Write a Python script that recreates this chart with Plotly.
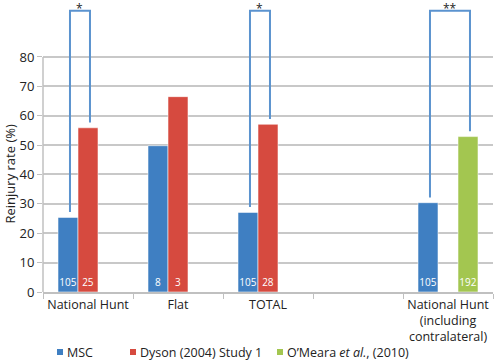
import plotly.graph_objects as go

categories = ["National Hunt", "Flat", "TOTAL", " ", "National Hunt<br>(including<br>contralateral)"]
msc_values = [25.4, 49.8, 27.1, None, 30.4]
dyson_values = [55.9, 66.5, 57.1, None, None]
omeara_values = [None, None, None, None, 52.9]
msc_n = ["105", "8", "105", "", "105"]
dyson_n = ["25", "3", "28", "", ""]
omeara_n = ["", "", "", "", "192"]
series_names = ["MSC", "Dyson (2004) Study 1", "O’Meara <i>et al.</i>, (2010)"]
y_ticks = [0, 10, 20, 30, 40, 50, 60, 70, 80]
y_title = "Reinjury rate (%)"
# significance brackets: (category index, left series, right series, label)
brackets = [(0, 0, 1, "*"), (2, 0, 1, "*"), (4, 0, 2, "**")]

colors = ["#3f7fc2", "#d64a3f", "#a3c650"]
FONT = "Open Sans"

W, H = 494, 361
ML, MR, MT, MB = 43, 1, 0, 69
plot_h = H - MT - MB
plot_w = W - ML - MR
y_top = 99.4

fig = go.Figure()
for name, vals, ns, col in zip(series_names, [msc_values, dyson_values, omeara_values],
                               [msc_n, dyson_n, omeara_n], colors):
    fig.add_trace(go.Bar(
        x=categories, y=vals, name=name, text=ns,
        textposition="inside", insidetextanchor="start", textangle=0,
        constraintext="none",
        textfont=dict(color="white", size=10, family=FONT),
        marker=dict(color=col, line=dict(color="rgba(255,255,255,0.55)", width=1)),
        showlegend=False, cliponaxis=False, hoverinfo="skip",
    ))

bargap = 1 / 3
nser = 3
bw = (1 - bargap) / nser
def bar_center(cat, ser):
    return cat - (1 - bargap) / 2 + bw * (ser + 0.5)

all_vals = [msc_values, dyson_values, omeara_values]
shapes = []
annotations = []
bcol = "#5b93cf"
top = 95.7
gap = 1.8
for cat, s1, s2, lab in brackets:
    xl = bar_center(cat, s1) + 0.022
    xr = bar_center(cat, s2) + 0.022
    yl = all_vals[s1][cat] + gap
    yr = all_vals[s2][cat] + gap
    shapes.append(dict(type="path", xref="x", yref="y",
                       path=f"M {xl},{yl} L {xl},{top} L {xr},{top} L {xr},{yr}",
                       line=dict(color=bcol, width=2)))
    annotations.append(dict(x=(xl + xr) / 2, y=top, xref="x", yref="y", text=lab,
                            showarrow=False, yanchor="middle", yshift=2,
                            font=dict(size=12, family=FONT, color="#222")))

# y axis line only up to 80
shapes.append(dict(type="line", xref="paper", yref="y", x0=0, x1=0, y0=0, y1=max(y_ticks),
                   line=dict(color="#c0c0c0", width=1.5)))

# y title
annotations.append(dict(x=(10 - ML) / plot_w, xref="paper", xanchor="center",
                        y=max(y_ticks) / 2, yref="y",
                        text=y_title, textangle=-90, showarrow=False,
                        font=dict(size=13, family=FONT, color="#222")))

# manual legend
leg_py = 352
leg_px = [57, 130, 277]
for name, col, px in zip(series_names, colors, leg_px):
    x0 = (px - ML) / plot_w
    x1 = (px + 6 - ML) / plot_w
    yc = (H - MB - leg_py) / plot_h
    yh = 3 / plot_h
    shapes.append(dict(type="rect", xref="paper", yref="paper", x0=x0, x1=x1,
                       y0=yc - yh, y1=yc + yh, fillcolor=col, line=dict(width=0)))
    annotations.append(dict(x=(px + 8 - ML) / plot_w, y=yc, xref="paper", yref="paper",
                            xanchor="left", yanchor="middle", text=name, showarrow=False,
                            font=dict(size=12.5, family=FONT, color="#222")))

fig.update_layout(
    width=W, height=H,
    margin=dict(l=ML, r=MR, t=MT, b=MB, autoexpand=False),
    plot_bgcolor="white", paper_bgcolor="white",
    barmode="group", bargap=bargap, bargroupgap=0,
    font=dict(family=FONT, color="#222"),
    showlegend=False, hovermode=False,
    shapes=shapes, annotations=annotations,
    xaxis=dict(type="category", categoryorder="array", categoryarray=categories,
               range=[-0.5, len(categories) - 0.5], automargin=False, tickangle=0,
               showline=True, linecolor="#c0c0c0", linewidth=1.5,
               ticks="outside", tickson="boundaries", ticklen=5, tickcolor="#c0c0c0",
               tickfont=dict(size=12.5, family=FONT, color="#222"), showgrid=False),
    yaxis=dict(range=[0, y_top], tickvals=y_ticks, showgrid=True, gridcolor="#c8c8c8",
               gridwidth=1.5, zeroline=False, showline=False, automargin=False,
               ticks="outside", ticklen=5, tickcolor="#c0c0c0",
               tickfont=dict(size=13, family=FONT, color="#222")),
)

fig.write_html("out.html", config={"displayModeBar": False},
               post_script="document.body.style.margin='0';")
